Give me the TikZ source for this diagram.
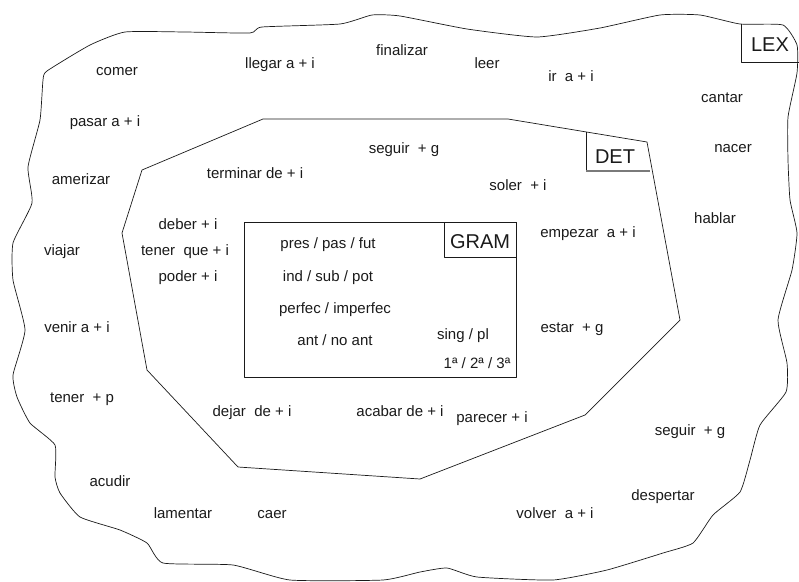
\documentclass[tikz,border=0pt]{standalone}
\usepackage{fontspec}
\setmainfont{Liberation Sans}
\definecolor{Ink}{HTML}{1A1A1A}
\definecolor{Scan}{HTML}{7A7A7A}

\begin{document}
\begin{tikzpicture}[x=1pt,y=-1pt,
    verb/.style={anchor=base,text=Ink,inner sep=0pt,font=\fontsize{15}{18}\selectfont},
    tag/.style={anchor=base,text=Ink,inner sep=0pt,font=\fontsize{20}{24}\selectfont},
    edge/.style={draw=Ink,line width=0.7pt,line join=round}]
        \useasboundingbox (0,0) rectangle (799,581);

        % LEX: the wavy outer region
        \draw[edge] plot[smooth cycle,tension=0.3] coordinates {
            (47,71) (90,45) (125,32) (185,32) (250,33) (262,27) (340,24) (372,15)
            (400,16) (467,29) (537,37) (600,28) (660,15) (700,15) (740,24) (783,25)
            (797,45) (797,73) (788,117) (788,160) (790,200) (797,233) (792,270) (778,320)
            (787,363) (786,392) (760,425) (750,460) (740,492) (713,515) (693,543) (663,553)
            (607,570) (553,580) (477,577) (447,568) (420,572) (383,580) (290,580) (233,565)
            (163,563) (147,543) (120,530) (80,517) (60,493) (55,477) (55,445) (30,423)
            (17,397) (13,375) (25,330) (13,280) (13,243) (32,203) (28,167) (40,120) (43,80)};
        \draw[edge] (741,24) -- (741,62) -- (799,62);
        \node[tag] (lex) at (770,51) {LEX};

        % DET: the polygon in the middle
        \draw[edge] (263,119) -- (508,119) -- (647,142) -- (680,320) -- (585,415)
            -- (420,479) -- (238,467) -- (147,370) -- (122,233) -- (142,170) -- cycle;
        \draw[edge] (586,132) -- (586,171);
        \draw[draw=Scan,line width=1.1pt] (586,171) -- (650,171);
        \node[tag] (det) at (615,163) {DET};

        % GRAM: the inner box
        \draw[edge] (244,222) rectangle (516,377);
        \draw[edge] (444,222) rectangle (516,257);
        \node[tag] (gram) at (480,248) {GRAM};

        \node[verb] (comer) at (117,75) {comer};
        \node[verb] (llegar) at (280,68) {llegar a + i};
        \node[verb] (finalizar) at (402,55) {finalizar};
        \node[verb] (leer) at (487,68) {leer};
        \node[verb] (ira) at (571,81) {ir\ \ a + i};
        \node[verb] (cantar) at (722,102) {cantar};
        \node[verb] (nacer) at (733,152) {nacer};
        \node[verb] (pasar) at (105,126) {pasar a + i};
        \node[verb] (amerizar) at (81,184) {amerizar};
        \node[verb] (viajar) at (62,255) {viajar};
        \node[verb] (venir) at (77,332) {venir a + i};
        \node[verb] (tenerp) at (82,402) {tener\ \ + p};
        \node[verb] (acudir) at (110,486) {acudir};
        \node[verb] (lamentar) at (183,518) {lamentar};
        \node[verb] (caer) at (272,518) {caer};
        \node[verb] (volver) at (555,518) {volver\ \ a + i};
        \node[verb] (despertar) at (663,500) {despertar};
        \node[verb] (seguirlex) at (690,435) {seguir\ \ + g};
        \node[verb] (hablar) at (715,223) {hablar};

        \node[verb] (terminar) at (255,178) {terminar de + i};
        \node[verb] (seguirdet) at (404,153) {seguir\ \ + g};
        \node[verb] (soler) at (518,190) {soler\ \ + i};
        \node[verb] (deber) at (188,229) {deber + i};
        \node[verb] (tenerque) at (185,255) {tener\ \ que + i};
        \node[verb] (poder) at (188,281) {poder + i};
        \node[verb] (empezar) at (588,237) {empezar\ \ a + i};
        \node[verb] (estar) at (572,332) {estar\ \ + g};
        \node[verb] (dejar) at (252,416) {dejar\ \ de + i};
        \node[verb] (acabar) at (400,416) {acabar de + i};
        \node[verb] (parecer) at (492,422) {parecer + i};

        \node[verb] (tiempo) at (328,248) {pres / pas / fut};
        \node[verb] (modo) at (328,281) {ind / sub / pot};
        \node[verb] (aspecto) at (335,313) {perfec / imperfec};
        \node[verb] (anterior) at (335,345) {ant / no ant};
        \node[verb] (numero) at (463,339) {sing / pl};
        \node[verb] (persona) at (477,368) {1ª / 2ª / 3ª};
      \end{tikzpicture}
\end{document}
